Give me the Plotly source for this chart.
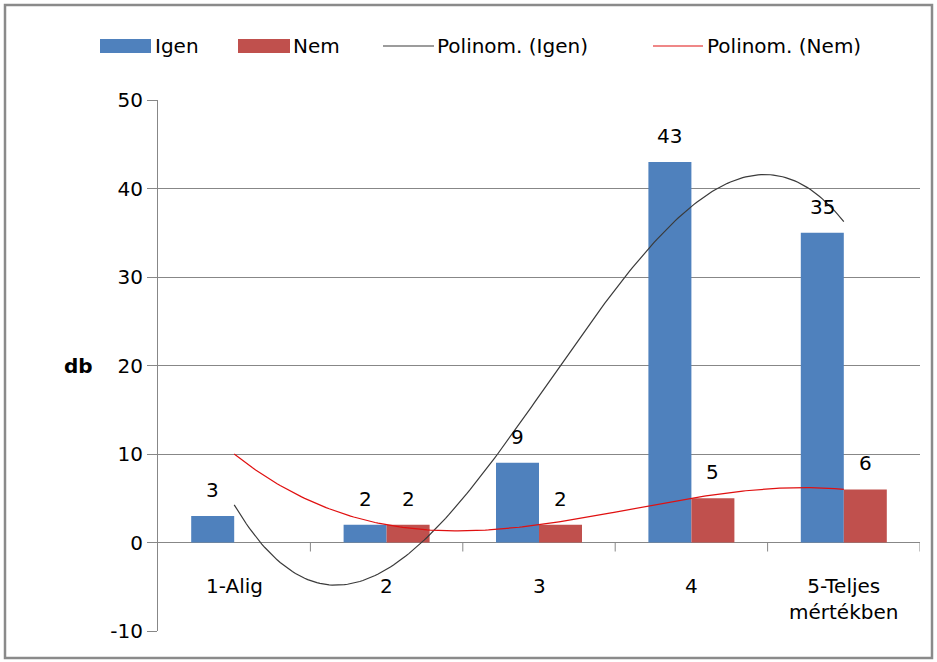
import numpy as np
import plotly.graph_objects as go

CATEGORIES = ['1-Alig', '2', '3', '4', '5-Teljes<br>mértékben']
X_POS = [1, 2, 3, 4, 5]
IGEN = [3, 2, 9, 43, 35]
NEM = [None, 2, 2, 5, 6]
Y_TICKS = [-10, 0, 10, 20, 30, 40, 50]
Y_TICK_TEXT = ['-10', '0', '10', '20', '30', '40', '50']

BLUE = '#4F81BD'
RED = '#C0504D'
GRID = '#878787'
FONT = 'DejaVu Sans'
FS = 20

# plot area in pixels (figure 937x662)
L, R, T, B = 158, 920, 100, 631


def px2x(px):
    return (px - L) / (R - L)


def px2y(py):
    return (B - py) / (B - T)


def trend(xs, ys, deg=3):
    # Excel-like polynomial trendline (order 3), skipping blanks
    pts = [(x, y) for x, y in zip(xs, ys) if y is not None]
    coef = np.polyfit([p[0] for p in pts], [p[1] for p in pts], deg)
    xx = np.linspace(1, 5, 200)
    return xx, np.polyval(coef, xx)


bargap = 1 - 86 / 152.4
bw = (1 - bargap) / 2

fig = go.Figure()
fig.add_bar(x=X_POS, y=IGEN, name='Igen', marker=dict(color=BLUE, line=dict(width=0)))
fig.add_bar(x=X_POS, y=NEM, name='Nem', marker=dict(color=RED, line=dict(width=0)))

xi, yi = trend(X_POS, IGEN)
xn, yn = trend(X_POS, NEM)
fig.add_scatter(x=xi, y=yi, mode='lines', name='Polinom. (Igen)', line=dict(color='#3a3a3a', width=1.2))
fig.add_scatter(x=xn, y=yn, mode='lines', name='Polinom. (Nem)', line=dict(color='#e01010', width=1.2))

ann = []
for x, a, b in zip(X_POS, IGEN, NEM):
    ann.append(dict(x=x - bw / 2, y=a, text=str(a), showarrow=False, yanchor='bottom', yshift=12))
    if b is not None:
        ann.append(dict(x=x + bw / 2, y=b, text=str(b), showarrow=False, yanchor='bottom', yshift=12))

for x, c in zip(X_POS, CATEGORIES):
    ann.append(dict(x=x, y=0, text=c, showarrow=False, yanchor='top', yshift=-29))

ann.append(dict(x=px2x(62), y=20, xref='paper', yref='y', text='<b>db</b>', showarrow=False))

shapes = []
# category boundary ticks on the zero line
for xb in [1.5, 2.5, 3.5, 4.5, 5.5]:
    shapes.append(dict(type='line', x0=xb, x1=xb, y0=0, y1=-9, xref='x', yref='y',
                       ysizemode='pixel', yanchor=0, line=dict(color=GRID, width=1)))

# legend drawn by hand to mimic the wide Excel keys
legend_items = [
    ('rect', BLUE, 100, 151, 'Igen', 153),
    ('rect', RED, 238, 290, 'Nem', 291),
    ('line', '#3a3a3a', 383, 434, 'Polinom. (Igen)', 435),
    ('line', '#e01010', 653, 703, 'Polinom. (Nem)', 705),
]
ly = 46
for kind, col, x0, x1, label, tx in legend_items:
    if kind == 'rect':
        shapes.append(dict(type='rect', xref='paper', yref='paper', x0=px2x(x0), x1=px2x(x1),
                           y0=px2y(ly + 7), y1=px2y(ly - 7), fillcolor=col, line=dict(width=0)))
    else:
        shapes.append(dict(type='line', xref='paper', yref='paper', x0=px2x(x0), x1=px2x(x1),
                           y0=px2y(ly), y1=px2y(ly), line=dict(color=col, width=1.2)))
    ann.append(dict(x=px2x(tx), y=px2y(ly), xref='paper', yref='paper', text=label, showarrow=False,
                    xanchor='left', yanchor='middle'))

# outer chart frame
shapes.append(dict(type='rect', xref='paper', yref='paper', x0=px2x(5), x1=px2x(932),
                   y0=px2y(658), y1=px2y(5), line=dict(color='#8a8a8a', width=2.5), layer='below'))

fig.update_layout(
    width=937, height=662,
    margin=dict(l=L, r=937 - R, t=T, b=662 - B),
    paper_bgcolor='white', plot_bgcolor='white',
    font=dict(family=FONT, size=FS, color='#000'),
    barmode='group', bargap=bargap, bargroupgap=0,
    showlegend=False,
    annotations=ann, shapes=shapes,
    xaxis=dict(range=[0.5, 5.5], showticklabels=False, showgrid=False, zeroline=False,
               showline=False, ticks=''),
    yaxis=dict(range=[-10, 50], tickvals=Y_TICKS, ticktext=Y_TICK_TEXT,
               showgrid=True, gridcolor=GRID, gridwidth=1,
               zeroline=True, zerolinecolor=GRID, zerolinewidth=1,
               showline=True, linecolor=GRID, linewidth=1,
               ticks='outside', ticklen=10, tickcolor=GRID, tickfont=dict(size=FS)),
)

fig.write_html('out.html', config={'displayModeBar': False},
               post_script="document.body.style.margin='0';")
